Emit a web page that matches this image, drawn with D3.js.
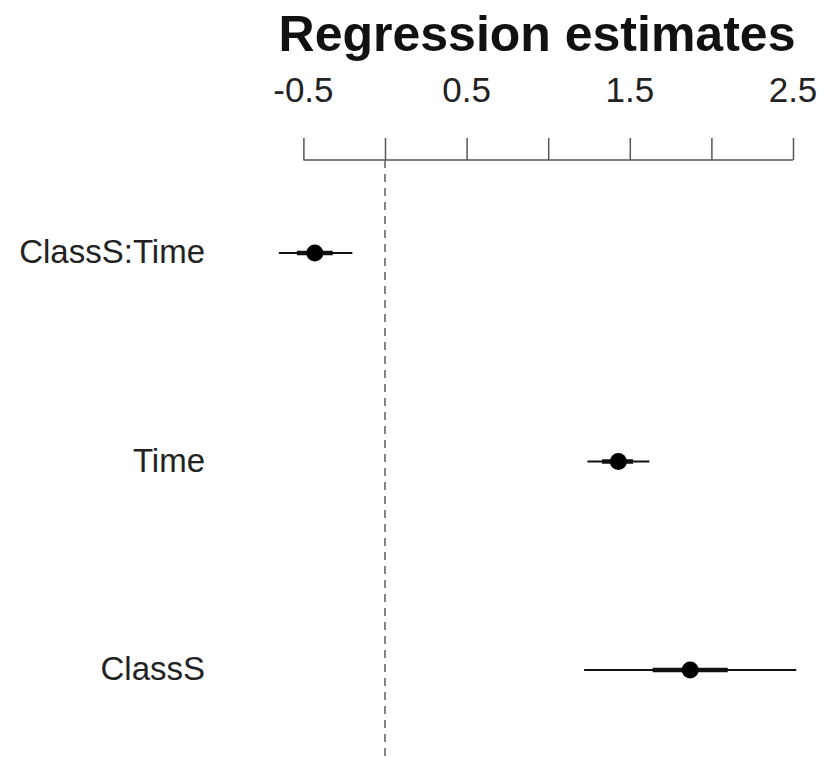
<!DOCTYPE html>
<html>
<head>
<meta charset="utf-8">
<script src="https://cdn.jsdelivr.net/npm/d3@7"></script>
<style>
  body { margin: 0; background: #fff; }
  svg { display: block; font-family: "Liberation Sans", Arial, sans-serif; }
</style>
</head>
<body>
<svg id="chart" width="826" height="757"></svg>
<script>
// coefficient names, top to bottom
var terms = ["ClassS:Time", "Time", "ClassS"];
var estimates = [-0.43, 1.43, 1.87];
var lower2se = [-0.65, 1.24, 1.22];
var upper2se = [-0.20, 1.62, 2.52];
var lower1se = [-0.54, 1.33, 1.64];
var upper1se = [-0.32, 1.52, 2.10];
var tickValues = [-0.5, 0, 0.5, 1, 1.5, 2, 2.5];
var labelledTicks = ["-0.5", "0.5", "1.5", "2.5"];

var svg = d3.select("#chart");

var xScale = d3.scaleLinear()
  .domain([0, 2.5])
  .range([385, 793]);

var yScale = d3.scalePoint()
  .domain(terms)
  .range([253, 670]);

// title
svg.append("text")
  .attr("x", 537)
  .attr("y", 51)
  .attr("text-anchor", "middle")
  .attr("font-size", 50)
  .attr("font-weight", "bold")
  .attr("fill", "#111")
  .text("Regression estimates");

// top axis
var axis = svg.append("g")
  .attr("transform", "translate(0,160)")
  .call(d3.axisTop(xScale)
    .tickValues(tickValues)
    .tickSize(22)
    .tickFormat(""));
axis.select(".domain").attr("stroke", "#555").attr("stroke-width", 1.5)
  .attr("d", "M" + xScale(-0.5) + ",0H" + xScale(2.5));
axis.selectAll(".tick line").attr("stroke", "#555").attr("stroke-width", 1.5);

svg.append("g").selectAll("text")
  .data(labelledTicks)
  .join("text")
  .attr("x", d => xScale(+d))
  .attr("y", 102)
  .attr("text-anchor", "middle")
  .attr("font-size", 35)
  .attr("fill", "#222")
  .text(d => d);

// zero reference line
svg.append("line")
  .attr("x1", xScale(0)).attr("x2", xScale(0))
  .attr("y1", 160).attr("y2", 757)
  .attr("stroke", "#666")
  .attr("stroke-width", 1.6)
  .attr("stroke-dasharray", "8,6");

// term labels
svg.append("g").selectAll("text")
  .data(terms)
  .join("text")
  .attr("x", 205)
  .attr("y", d => yScale(d) + 10)
  .attr("text-anchor", "end")
  .attr("font-size", 33)
  .attr("fill", "#222")
  .text(d => d);

var rows = terms.map((t, i) => ({
  term: t, est: estimates[i],
  lo2: lower2se[i], hi2: upper2se[i],
  lo1: lower1se[i], hi1: upper1se[i]
}));

var marks = svg.append("g");

marks.selectAll(".ci2")
  .data(rows)
  .join("line")
  .attr("class", "ci2")
  .attr("x1", d => xScale(d.lo2)).attr("x2", d => xScale(d.hi2))
  .attr("y1", d => yScale(d.term)).attr("y2", d => yScale(d.term))
  .attr("stroke", "#111").attr("stroke-width", 2);

marks.selectAll(".ci1")
  .data(rows)
  .join("line")
  .attr("class", "ci1")
  .attr("x1", d => xScale(d.lo1)).attr("x2", d => xScale(d.hi1))
  .attr("y1", d => yScale(d.term)).attr("y2", d => yScale(d.term))
  .attr("stroke", "#111").attr("stroke-width", 4.5);

marks.selectAll("circle")
  .data(rows)
  .join("circle")
  .attr("cx", d => xScale(d.est))
  .attr("cy", d => yScale(d.term))
  .attr("r", 8.5)
  .attr("fill", "#000");
</script>
</body>
</html>
